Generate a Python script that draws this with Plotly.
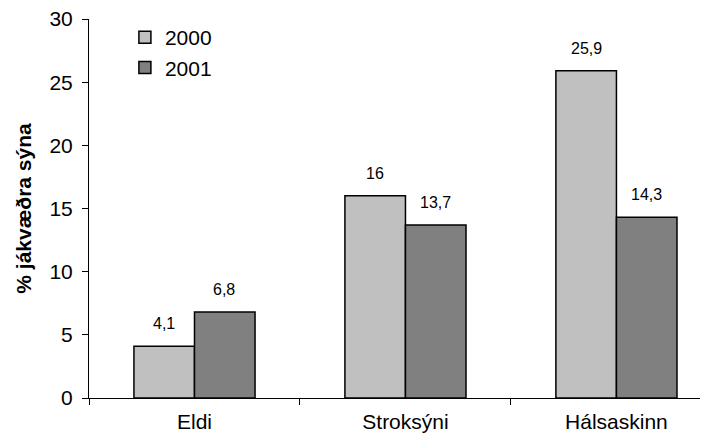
import plotly.graph_objects as go

categories = ["Eldi", "Stroksýni", "Hálsaskinn"]
series_names = ["2000", "2001"]
values_2000 = [4.1, 16, 25.9]
values_2001 = [6.8, 13.7, 14.3]
colors = ["#c0c0c0", "#808080"]
y_ticks = [0, 5, 10, 15, 20, 25, 30]

FONT = "Liberation Sans, Arial, sans-serif"

fig = go.Figure()
for name, vals, col in zip(series_names, [values_2000, values_2001], colors):
    fig.add_trace(go.Bar(
        x=categories, y=vals, name=name,
        marker=dict(color=col, line=dict(color="black", width=1.5)),
    ))

def fmt(v):
    return ("%g" % v).replace(".", ",")

annotations = []
for i, vals in enumerate([values_2000, values_2001]):
    for c, v in zip(categories, vals):
        annotations.append(dict(
            x=c, y=v, xref="x", yref="y", text=fmt(v), showarrow=False,
            xshift=-30 if i == 0 else 30, yshift=12, yanchor="bottom",
            font=dict(family=FONT, size=16, color="black"),
        ))

# page body has an 8px default margin, so the figure is 8px smaller
fig.update_layout(
    width=700, height=431,
    margin=dict(l=81, r=0, t=11, b=41),
    paper_bgcolor="white", plot_bgcolor="white",
    barmode="group", bargap=0.426, bargroupgap=0,
    font=dict(family=FONT, color="black"),
    showlegend=True,
    legend=dict(x=0.058, y=1.005, xanchor="left", yanchor="top",
                font=dict(size=21), bgcolor="rgba(0,0,0,0)",
                itemwidth=30),
    annotations=annotations,
    xaxis=dict(
        range=[-0.5, 2.434], showline=True, linecolor="black", linewidth=1,
        ticks="outside", tickson="boundaries", ticklen=6, tickcolor="black",
        tickfont=dict(size=21), showgrid=False, zeroline=False,
        ticklabelstandoff=5, automargin=False, ticklabeloverflow="allow",
    ),
    yaxis=dict(
        range=[0, 30], tickvals=y_ticks, showline=True, linecolor="black",
        linewidth=1, ticks="outside", ticklen=6, tickcolor="black",
        tickfont=dict(size=21), showgrid=False, zeroline=False,
        ticklabelstandoff=5, automargin=False, ticklabeloverflow="allow",
        title=dict(text="<b>% jákvæðra sýna</b>", font=dict(size=21), standoff=12),
    ),
)

fig.write_html("out.html")
